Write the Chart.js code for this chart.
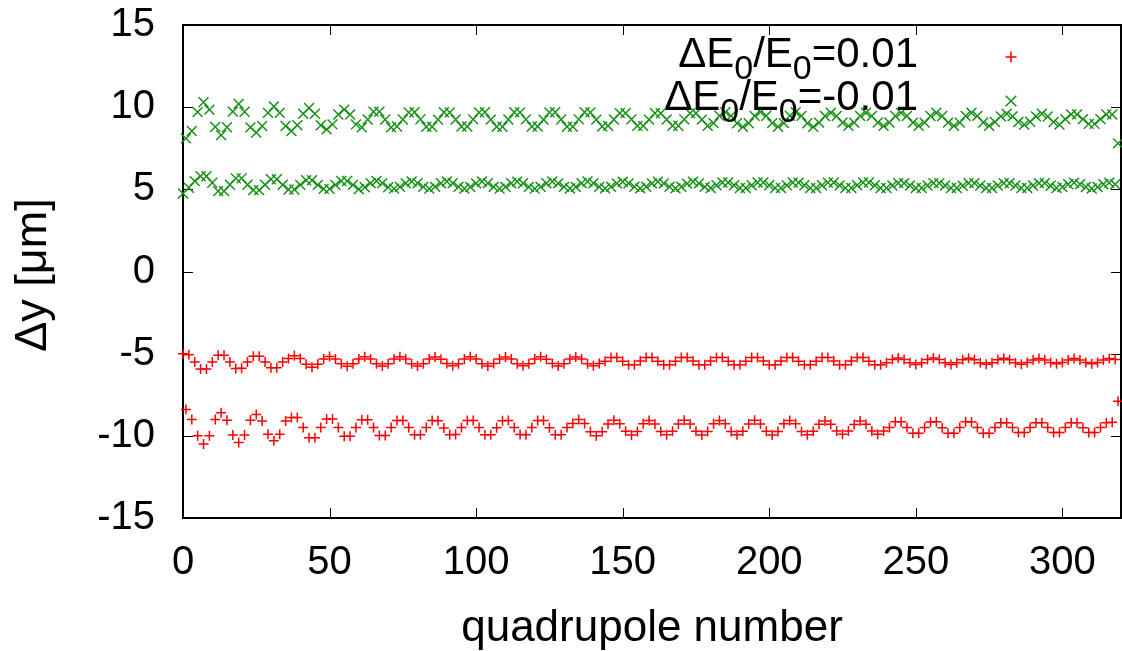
<!DOCTYPE html>
<html>
<head>
<meta charset="utf-8">
<script src="https://cdn.jsdelivr.net/npm/chart.js@4.4.1/dist/chart.umd.min.js"></script>
<style>
  html, body { margin: 0; padding: 0; background: #fff; }
  canvas { display: block; }
</style>
</head>
<body>
<canvas id="chart" width="1122" height="651"></canvas>
<script>
// Orbit offset per quadrupole.
// Even quadrupoles and odd quadrupoles sit on two separate bands.

// dE0/E0 = +0.01, even quadrupoles (0, 2, ... 318)
var redEven = [
  -5.0, -5.07, -5.5, -5.93, -5.93, -5.5,
  -5.1, -5.1, -5.5, -5.9, -5.89, -5.5,
  -5.15, -5.15, -5.5, -5.85, -5.85, -5.5,
  -5.3, -5.12, -5.3, -5.65, -5.82, -5.64,
  -5.32, -5.17, -5.32, -5.62, -5.77, -5.62,
  -5.33, -5.19, -5.33, -5.61, -5.75, -5.61,
  -5.33, -5.19, -5.33, -5.61, -5.75, -5.61,
  -5.32, -5.2, -5.34, -5.6, -5.74, -5.61,
  -5.33, -5.19, -5.33, -5.61, -5.75, -5.6,
  -5.33, -5.2, -5.33, -5.61, -5.74, -5.61,
  -5.32, -5.19, -5.34, -5.6, -5.75, -5.61,
  -5.33, -5.2, -5.33, -5.61, -5.74, -5.6,
  -5.46, -5.24, -5.24, -5.46, -5.68, -5.68,
  -5.45, -5.24, -5.23, -5.46, -5.68, -5.67,
  -5.46, -5.23, -5.24, -5.45, -5.67, -5.68,
  -5.45, -5.24, -5.24, -5.46, -5.68, -5.67,
  -5.46, -5.24, -5.23, -5.45, -5.67, -5.68,
  -5.45, -5.23, -5.24, -5.46, -5.68, -5.67,
  -5.46, -5.24, -5.24, -5.45, -5.67, -5.68,
  -5.45, -5.24, -5.23, -5.46, -5.68, -5.67,
  -5.56, -5.36, -5.26, -5.36, -5.56, -5.66,
  -5.56, -5.36, -5.27, -5.36, -5.56, -5.66,
  -5.55, -5.37, -5.28, -5.37, -5.55, -5.64,
  -5.55, -5.37, -5.28, -5.37, -5.55, -5.64,
  -5.54, -5.38, -5.3, -5.38, -5.54, -5.62,
  -5.54, -5.38, -5.3, -5.38, -5.54, -5.62,
  -5.54, -5.38, -5.3, -5.36
];

// dE0/E0 = +0.01, odd quadrupoles (1, 3, ... 319)
var redOdd = [
  -8.4, -9.0, -10.0, -10.5, -10.0, -9.0,
  -8.6, -9.05, -9.95, -10.4, -9.95, -9.05,
  -8.7, -9.1, -9.9, -10.3, -9.9, -9.1,
  -8.89, -8.89, -9.5, -10.11, -10.11, -9.5,
  -8.98, -8.98, -9.5, -10.02, -10.02, -9.5,
  -9.02, -9.02, -9.5, -9.98, -9.98, -9.5,
  -9.07, -9.07, -9.5, -9.93, -9.93, -9.5,
  -9.06, -9.08, -9.52, -9.94, -9.92, -9.49,
  -9.07, -9.06, -9.49, -9.93, -9.94, -9.51,
  -9.08, -9.07, -9.5, -9.92, -9.93, -9.5,
  -9.06, -9.07, -9.51, -9.94, -9.93, -9.49,
  -9.25, -9.0, -9.25, -9.75, -10.0, -9.75,
  -9.28, -9.05, -9.27, -9.72, -9.95, -9.73,
  -9.27, -9.06, -9.28, -9.73, -9.94, -9.72,
  -9.28, -9.05, -9.28, -9.72, -9.95, -9.73,
  -9.27, -9.06, -9.27, -9.73, -9.94, -9.72,
  -9.28, -9.05, -9.28, -9.72, -9.95, -9.73,
  -9.27, -9.06, -9.27, -9.73, -9.94, -9.72,
  -9.3, -9.1, -9.3, -9.7, -9.9, -9.7,
  -9.31, -9.1, -9.29, -9.7, -9.9, -9.71,
  -9.5, -9.15, -9.15, -9.5, -9.85, -9.85,
  -9.49, -9.16, -9.15, -9.51, -9.85, -9.84,
  -9.5, -9.15, -9.16, -9.5, -9.84, -9.85,
  -9.5, -9.2, -9.2, -9.5, -9.8, -9.8,
  -9.49, -9.2, -9.21, -9.5, -9.8, -9.79,
  -9.5, -9.2, -9.2, -9.51, -9.8, -9.8,
  -9.5, -9.2, -9.18, -7.9
];

// dE0/E0 = -0.01, even quadrupoles
var greenEven = [
  4.75, 5.1, 5.5, 5.8, 5.8, 5.4,
  4.89, 4.89, 5.28, 5.67, 5.67, 5.28,
  4.95, 4.95, 5.28, 5.61, 5.61, 5.28,
  4.99, 4.99, 5.27, 5.55, 5.55, 5.27,
  5.03, 5.03, 5.27, 5.51, 5.51, 5.27,
  5.01, 5.13, 5.38, 5.51, 5.38, 5.13,
  5.04, 5.15, 5.37, 5.48, 5.37, 5.15,
  5.04, 5.15, 5.37, 5.48, 5.37, 5.15,
  5.05, 5.14, 5.36, 5.48, 5.38, 5.15,
  5.04, 5.15, 5.37, 5.47, 5.37, 5.14,
  5.04, 5.15, 5.37, 5.48, 5.36, 5.15,
  5.05, 5.14, 5.37, 5.48, 5.37, 5.15,
  5.06, 5.16, 5.36, 5.46, 5.36, 5.16,
  5.06, 5.16, 5.36, 5.46, 5.36, 5.16,
  5.06, 5.16, 5.35, 5.46, 5.36, 5.15,
  5.08, 5.25, 5.42, 5.42, 5.25, 5.08,
  5.08, 5.25, 5.42, 5.42, 5.25, 5.08,
  5.08, 5.24, 5.42, 5.41, 5.25, 5.08,
  5.08, 5.25, 5.41, 5.42, 5.24, 5.08,
  5.08, 5.25, 5.42, 5.42, 5.25, 5.08,
  5.08, 5.23, 5.38, 5.38, 5.23, 5.08,
  5.08, 5.23, 5.38, 5.38, 5.23, 5.08,
  5.08, 5.22, 5.38, 5.38, 5.23, 5.08,
  5.08, 5.23, 5.38, 5.37, 5.23, 5.08,
  5.08, 5.23, 5.38, 5.38, 5.22, 5.08,
  5.14, 5.31, 5.4, 5.31, 5.14, 5.05,
  5.14, 5.31, 5.4, 5.31
];

// dE0/E0 = -0.01, odd quadrupoles
var greenOdd = [
  8.1, 8.55, 9.7, 10.3, 9.85, 8.8,
  8.3, 8.78, 9.73, 10.2, 9.72, 8.77,
  8.45, 8.85, 9.65, 10.05, 9.65, 8.85,
  8.55, 8.9, 9.6, 9.95, 9.6, 8.9,
  8.65, 8.95, 9.55, 9.85, 9.55, 8.95,
  8.77, 9.25, 9.73, 9.73, 9.25, 8.77,
  8.82, 9.25, 9.68, 9.69, 9.26, 8.81,
  8.81, 9.24, 9.69, 9.68, 9.25, 8.82,
  8.82, 9.26, 9.68, 9.69, 9.24, 8.81,
  8.81, 9.25, 9.69, 9.68, 9.26, 8.82,
  8.82, 9.24, 9.68, 9.69, 9.25, 8.81,
  8.81, 9.26, 9.69, 9.68, 9.24, 8.82,
  8.86, 9.25, 9.64, 9.64, 9.26, 8.86,
  8.86, 9.24, 9.64, 9.63, 9.25, 8.87,
  8.87, 9.26, 9.63, 9.64, 9.24, 8.86,
  9.03, 9.48, 9.7, 9.47, 9.02, 8.8,
  9.02, 9.47, 9.7, 9.48, 9.03, 8.81,
  9.03, 9.48, 9.69, 9.47, 9.02, 8.8,
  9.06, 9.46, 9.66, 9.46, 9.06, 8.86,
  9.06, 9.47, 9.66, 9.46, 9.07, 8.86,
  9.07, 9.46, 9.65, 9.47, 9.06, 8.87,
  9.06, 9.46, 9.66, 9.46, 9.06, 8.86,
  9.06, 9.47, 9.66, 9.47, 9.07, 8.86,
  9.1, 9.44, 9.6, 9.44, 9.1, 8.94,
  9.11, 9.44, 9.6, 9.43, 9.1, 8.94,
  9.27, 9.56, 9.56, 9.27, 8.98, 8.98,
  9.27, 9.56, 9.55, 7.8
];

var xTicks = [0, 50, 100, 150, 200, 250, 300];
var yTicks = [-15, -10, -5, 0, 5, 10, 15];
var xTitle = 'quadrupole number';
var yTitle = 'Δy [μm]';
// legend text split in pieces: [text, isSubscript]
var legendRed = [['ΔE', false], ['0', true], ['/E', false], ['0', true], ['=0.01', false]];
var legendGreen = [['ΔE', false], ['0', true], ['/E', false], ['0', true], ['=-0.01', false]];

var RED = '#ff0000';
var GREEN = '#0f8f0f';
var FONT = '"Liberation Sans", Arial, sans-serif';

// quadrupole number = position in the combined even/odd list
function merge(even, odd) {
    var pts = [];
    for (var k = 0; k < even.length; k++) {
        pts.push({x: 2 * k, y: even[k]});
        pts.push({x: 2 * k + 1, y: odd[k]});
    }
    return pts;
}

function drawPieces(ctx, pieces, right, base) {
    var big = '42px ' + FONT, small = '34px ' + FONT;
    var w = 0;
    pieces.forEach(function(p) {
        ctx.font = p[1] ? small : big;
        w += ctx.measureText(p[0]).width;
    });
    var x = right - w;
    pieces.forEach(function(p) {
        ctx.font = p[1] ? small : big;
        ctx.fillText(p[0], x, p[1] ? base + 12 : base);
        x += ctx.measureText(p[0]).width;
    });
}

// gnuplot-like frame: full box, inward ticks mirrored on all sides, titles, key
var gnuFrame = {
    id: 'gnuFrame',
    beforeDatasetsDraw: function(chart) {
        var ctx = chart.ctx, a = chart.chartArea;
        var xs = chart.scales.x, ys = chart.scales.y;
        ctx.save();
        ctx.strokeStyle = '#000';
        ctx.lineWidth = 1;
        ctx.beginPath();
        xTicks.forEach(function(v) {
            var px = Math.round(xs.getPixelForValue(v)) + 0.5;
            ctx.moveTo(px, a.bottom); ctx.lineTo(px, a.bottom - 10);
            ctx.moveTo(px, a.top); ctx.lineTo(px, a.top + 10);
        });
        yTicks.forEach(function(v) {
            var py = Math.round(ys.getPixelForValue(v)) + 0.5;
            ctx.moveTo(a.left, py); ctx.lineTo(a.left + 10, py);
            ctx.moveTo(a.right, py); ctx.lineTo(a.right - 10, py);
        });
        ctx.stroke();
        ctx.lineWidth = 2;
        ctx.strokeRect(a.left, a.top, a.right - a.left, a.bottom - a.top);
        ctx.restore();
    },
    afterDraw: function(chart) {
        var ctx = chart.ctx, a = chart.chartArea;
        ctx.save();
        ctx.fillStyle = '#000';
        ctx.font = '44px ' + FONT;
        ctx.textAlign = 'center';
        ctx.textBaseline = 'alphabetic';
        ctx.fillText(xTitle, (a.left + a.right) / 2, 641);

        ctx.font = '45px ' + FONT;
        ctx.translate(34, 275);
        ctx.rotate(-Math.PI / 2);
        ctx.textBaseline = 'middle';
        ctx.fillText(yTitle, 0, 0);
        ctx.restore();

        // key
        ctx.save();
        ctx.fillStyle = '#000';
        ctx.textAlign = 'left';
        ctx.textBaseline = 'alphabetic';
        drawPieces(ctx, legendRed, 918, 67);
        drawPieces(ctx, legendGreen, 918, 110);
        var ds = chart.data.datasets;
        ctx.lineWidth = 1.5;
        ctx.strokeStyle = RED;
        Chart.helpers.drawPoint(ctx, {pointStyle: ds[0].pointStyle, radius: 5.5, borderWidth: 1.5}, 1011, 57);
        ctx.strokeStyle = GREEN;
        Chart.helpers.drawPoint(ctx, {pointStyle: ds[1].pointStyle, radius: 7.5, borderWidth: 1.5}, 1011, 101);
        ctx.restore();
    }
};

new Chart(document.getElementById('chart'), {
    type: 'scatter',
    data: {
        datasets: [
            {
                label: 'ΔE0/E0=0.01',
                data: merge(redEven, redOdd),
                pointStyle: 'cross',
                pointRadius: 5,
                pointBorderWidth: 1.5,
                borderColor: RED,
                backgroundColor: RED,
                clip: false,
                order: 2
            },
            {
                label: 'ΔE0/E0=-0.01',
                data: merge(greenEven, greenOdd),
                pointStyle: 'crossRot',
                pointRadius: 7,
                pointBorderWidth: 1.4,
                borderColor: GREEN,
                backgroundColor: GREEN,
                clip: false,
                order: 1
            }
        ]
    },
    options: {
        responsive: false,
        animation: false,
        layout: { autoPadding: false, padding: { top: 25, right: 1, left: 0, bottom: 0 } },
        plugins: {
            legend: { display: false },
            tooltip: { enabled: false }
        },
        scales: {
            x: {
                type: 'linear',
                min: 0,
                max: 320,
                afterBuildTicks: function(scale) {
                    scale.ticks = xTicks.map(function(v) { return {value: v}; });
                },
                afterFit: function(scale) {
                    scale.height = 133;
                    scale.paddingLeft = 0;
                    scale.paddingRight = 0;
                },
                grid: { display: false, drawTicks: false },
                border: { display: false },
                ticks: {
                    color: '#000',
                    font: { family: FONT, size: 40 },
                    padding: 21,
                    maxRotation: 0
                }
            },
            y: {
                type: 'linear',
                min: -15,
                max: 15,
                afterBuildTicks: function(scale) {
                    scale.ticks = yTicks.map(function(v) { return {value: v}; });
                },
                afterFit: function(scale) {
                    scale.width = 183;
                    scale.paddingTop = 0;
                    scale.paddingBottom = 0;
                },
                grid: { display: false, drawTicks: false },
                border: { display: false },
                ticks: {
                    color: '#000',
                    font: { family: FONT, size: 40 },
                    padding: 28
                }
            }
        }
    },
    plugins: [gnuFrame]
});
</script>
</body>
</html>
